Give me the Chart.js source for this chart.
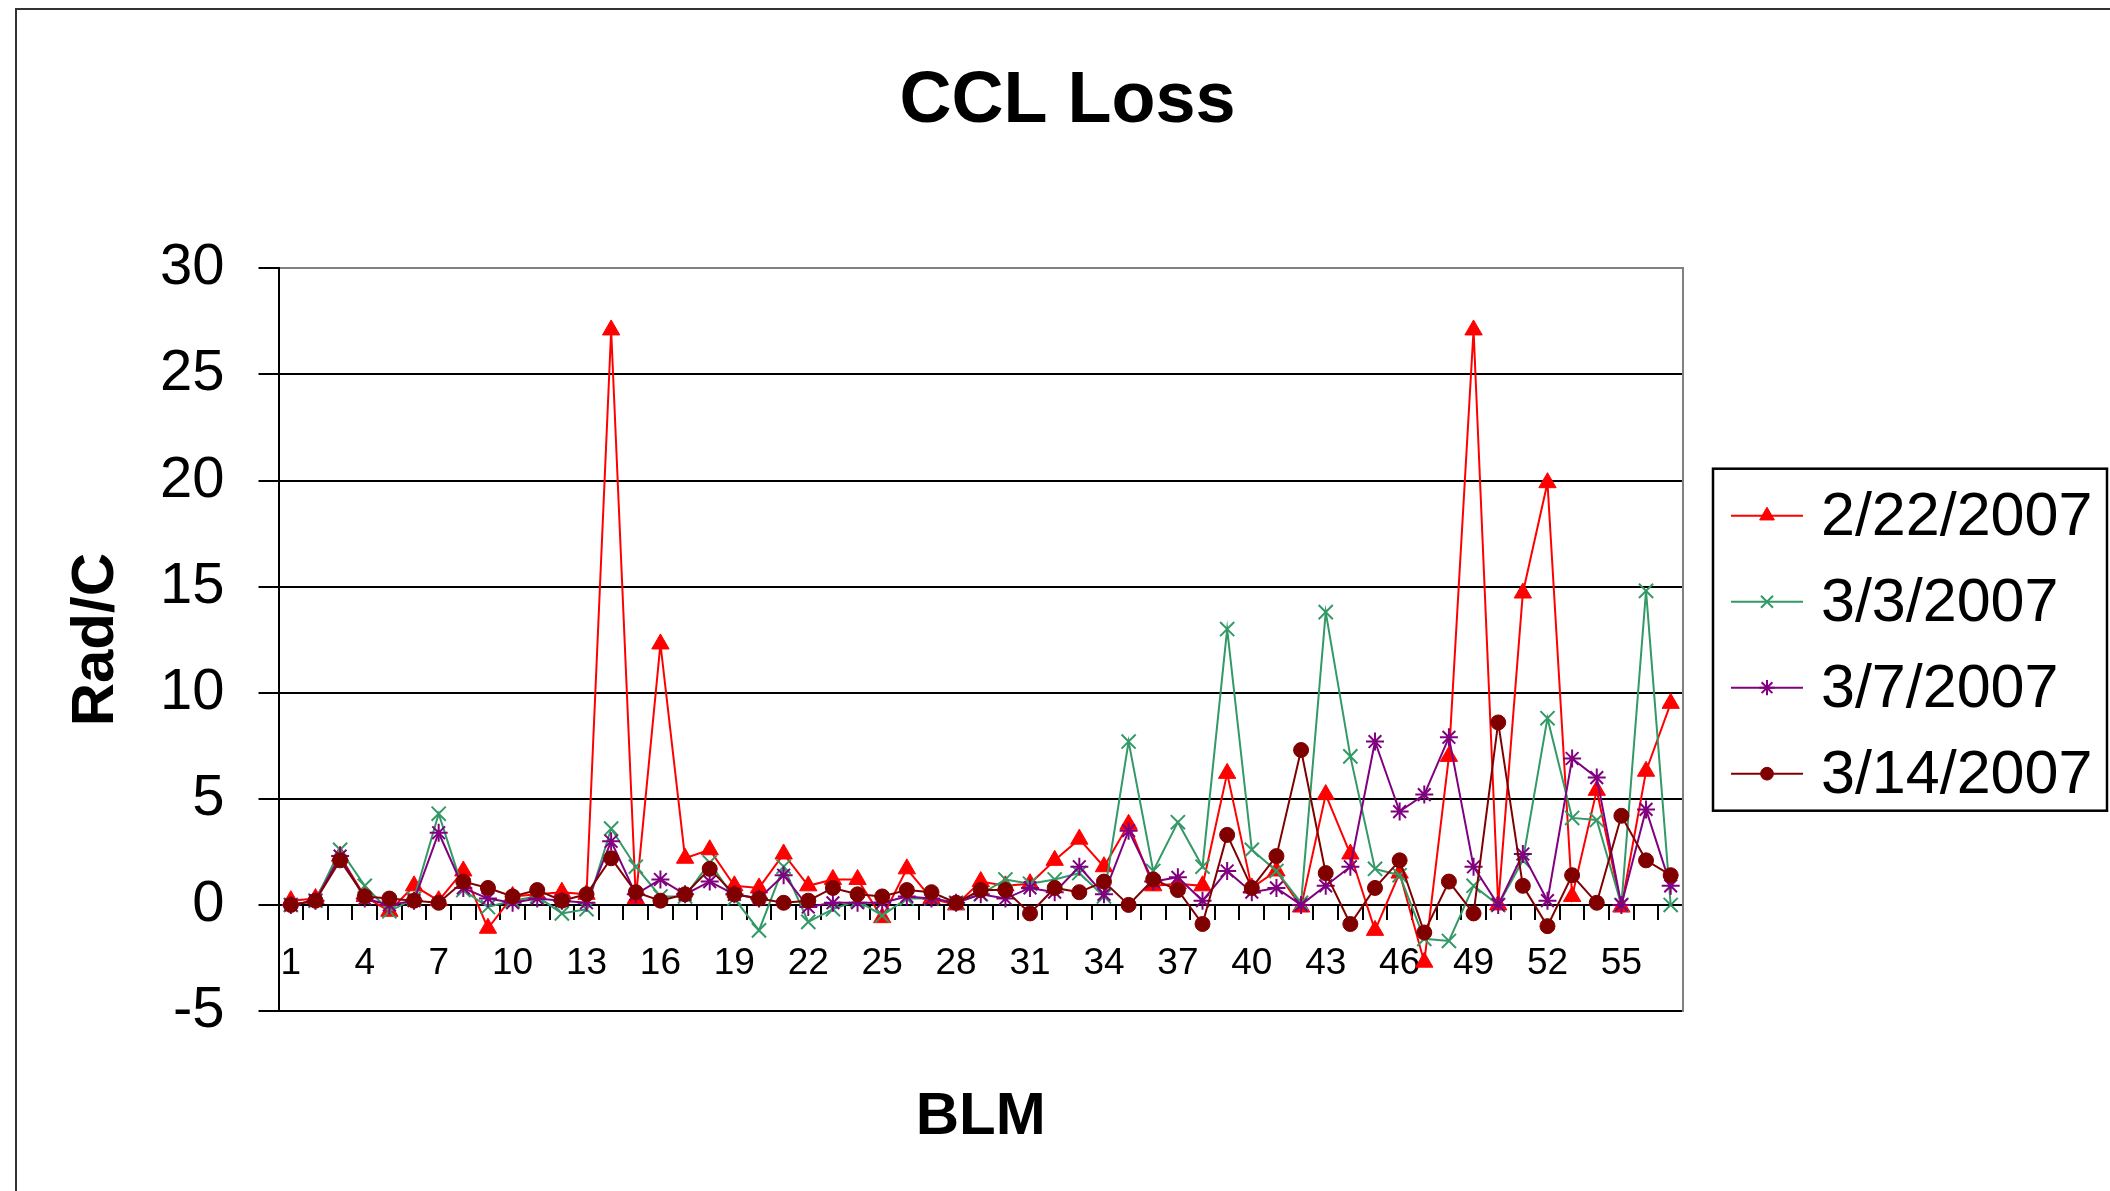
<!DOCTYPE html>
<html><head><meta charset="utf-8">
<script src="https://cdn.jsdelivr.net/npm/chart.js@4/dist/chart.umd.min.js"></script>
<style>html,body{margin:0;padding:0;background:#fff}canvas{display:block}</style>
</head><body>
<canvas id="c" width="2110" height="1191"></canvas>
<script>
const categories = ['1','2','3','4','5','6','7','8','9','10','11','12','13','14','15','16','17','18','19','20',
  '21','22','23','24','25','26','27','28','29','30','31','32','33','34','35','36','37','38','39','40',
  '41','42','43','44','45','46','47','48','49','50','51','52','53','54','55','56','57'];
const shownTicks = ['1','4','7','10','13','16','19','22','25','28','31','34','37','40','43','46','49','52','55'];
const seriesNames = ['2/22/2007','3/3/2007','3/7/2007','3/14/2007'];

const s0222 = [0.2,0.3,2.3,0.4,-0.3,0.9,0.2,1.6,-1.1,0.4,0.5,0.6,0.5,27.1,0.3,12.3,2.2,2.6,0.9,0.8,
  2.4,0.9,1.2,1.2,-0.6,1.7,0.3,0.0,1.1,0.9,1.0,2.1,3.1,1.8,3.8,0.9,1.0,0.9,6.2,0.8,
  1.6,-0.1,5.2,2.4,-1.2,1.5,-2.7,7.0,27.1,0.0,14.7,19.9,0.4,5.4,-0.1,6.3,9.5];
const s0303 = [0.0,0.2,2.6,0.9,-0.3,0.3,4.3,0.7,-0.1,0.2,0.4,-0.4,-0.2,3.6,1.8,0.4,0.4,2.0,0.3,-1.2,
  1.8,-0.8,-0.2,0.2,-0.5,0.3,0.3,0.1,0.5,1.2,1.0,1.2,1.5,0.4,7.7,1.6,3.9,1.8,13.0,2.6,
  1.6,0.1,13.8,7.0,1.7,1.4,-1.6,-1.7,0.9,0.0,2.1,8.8,4.1,4.0,0.0,14.8,0.0];
const s0307 = [0.0,0.2,2.3,0.3,0.0,0.2,3.4,0.8,0.3,0.1,0.3,0.2,0.1,3.0,0.5,1.2,0.5,1.1,0.5,0.3,
  1.4,-0.1,0.1,0.1,0.1,0.4,0.3,0.1,0.5,0.3,0.8,0.6,1.8,0.5,3.5,1.1,1.3,0.2,1.6,0.6,
  0.8,0.0,0.9,1.8,7.7,4.4,5.2,7.9,1.8,0.0,2.4,0.2,6.9,6.0,0.0,4.5,0.9];
const s0314 = [0.0,0.2,2.1,0.4,0.3,0.2,0.1,1.1,0.8,0.4,0.7,0.2,0.5,2.2,0.6,0.2,0.5,1.7,0.5,0.3,
  0.1,0.2,0.8,0.5,0.4,0.7,0.6,0.1,0.7,0.7,-0.4,0.8,0.6,1.1,0.0,1.2,0.7,-0.9,3.3,0.8,
  2.3,7.3,1.5,-0.9,0.8,2.1,-1.3,1.1,-0.4,8.6,0.9,-1.0,1.4,0.1,4.2,2.1,1.4];

const FONT = '"Liberation Sans", Arial, sans-serif';
Chart.defaults.font.family = FONT;
Chart.defaults.color = '#000';

const frame = {
  id: 'frame',
  beforeDraw(chart) {
    const ctx = chart.ctx;
    ctx.save();
    ctx.fillStyle = '#fff';
    ctx.fillRect(0, 0, chart.width, chart.height);
    ctx.strokeStyle = '#333';
    ctx.lineWidth = 2;
    ctx.strokeRect(16, 9, chart.width + 100, chart.height + 100);
    ctx.restore();
  }
};

const boxLegend = {
  id: 'boxLegend',
  afterDraw(chart) {
    const ctx = chart.ctx, ca = chart.chartArea;
    const w = 394, h = 342;
    const x0 = ca.right + 30, y0 = (ca.top + ca.bottom) / 2 - h / 2;
    ctx.save();
    ctx.strokeStyle = '#000';
    ctx.lineWidth = 2.5;
    ctx.strokeRect(x0, y0, w, h);
    chart.data.datasets.forEach((ds, i) => {
      const cy = y0 + 47 + i * 86;
      ctx.strokeStyle = ds.borderColor;
      ctx.lineWidth = ds.borderWidth;
      ctx.beginPath(); ctx.moveTo(x0 + 18, cy); ctx.lineTo(x0 + 90, cy); ctx.stroke();
      ctx.fillStyle = ds.pointBackgroundColor;
      ctx.strokeStyle = ds.pointBorderColor;
      ctx.lineWidth = ds.pointBorderWidth;
      Chart.helpers.drawPoint(ctx, {pointStyle: ds.pointStyle, radius: ds.pointRadius * 0.85, borderWidth: ds.pointBorderWidth, rotation: 0}, x0 + 54, cy);
      ctx.fillStyle = '#000';
      ctx.font = '61px ' + FONT;
      ctx.textBaseline = 'middle';
      ctx.textAlign = 'left';
      ctx.fillText(ds.label, x0 + 108, cy + 2);
    });
    ctx.restore();
  }
};

function mk(label, data, color, style, radius, bw, order) {
  return {label, data, borderColor: color, backgroundColor: color, borderWidth: 2,
    pointStyle: style, pointRadius: radius, pointHoverRadius: radius,
    pointBackgroundColor: color, pointBorderColor: color, pointBorderWidth: bw,
    tension: 0, fill: false, order};
}

new Chart(document.getElementById('c'), {
  type: 'line',
  data: {
    labels: categories,
    datasets: [
      mk(seriesNames[0], s0222, '#FF0000', 'triangle', 10, 1, 4),
      mk(seriesNames[1], s0303, '#339966', 'crossRot', 10, 2, 3),
      mk(seriesNames[2], s0307, '#800080', 'star', 9, 2, 2),
      mk(seriesNames[3], s0314, '#800000', 'circle', 7.5, 1, 1)
    ]
  },
  options: {
    responsive: false,
    devicePixelRatio: 1,
    animation: false,
    layout: {padding: {left: 31, right: 6, top: 0, bottom: 38}},
    plugins: {
      legend: {display: false},
      tooltip: {enabled: false},
      title: {display: true, text: 'CCL Loss', color: '#000',
        font: {size: 72, weight: 'bold'}, padding: {top: 59, bottom: 123}}
    },
    scales: {
      y: {
        type: 'linear', position: 'left', min: -5, max: 30,
        ticks: {stepSize: 5, font: {size: 58}, color: '#000', padding: 34},
        grid: {color: (c) => (c.tick && c.tick.value === 30) ? '#808080' : '#000',
          lineWidth: 2, tickLength: 20, tickColor: '#000', tickWidth: 2},
        border: {color: '#000', width: 2},
        title: {display: true, text: 'Rad/C', color: '#000', font: {size: 60, weight: 'bold', lineHeight: 1},
          padding: {top: 35, bottom: 0}}
      },
      x: {
        type: 'category', position: {y: 0}, offset: true,
        grid: {offset: true, drawOnChartArea: false, drawTicks: true, tickLength: 14,
          color: '#000', lineWidth: 2},
        border: {color: '#000', width: 2},
        ticks: {autoSkip: false, maxRotation: 0, minRotation: 0, font: {size: 37}, color: '#000', padding: 23,
          callback: function (v) { const l = this.getLabelForValue(v); return shownTicks.includes(l) ? l : ''; }}
      },
      xb: {
        type: 'category', position: 'bottom', offset: true,
        grid: {display: false, drawTicks: false, tickLength: 0},
        border: {display: false},
        ticks: {display: false},
        title: {display: true, text: 'BLM', color: '#000', font: {size: 60, weight: 'bold'},
          padding: {top: 70, bottom: 0}}
      },
      y2: {
        type: 'linear', position: 'right', min: -5, max: 30,
        grid: {display: false, drawTicks: false, tickLength: 0},
        ticks: {display: false},
        border: {display: true, color: '#808080', width: 2},
        afterFit: (s) => { s.width = 421; }
      }
    }
  },
  plugins: [frame, boxLegend]
});
</script>
</body></html>
